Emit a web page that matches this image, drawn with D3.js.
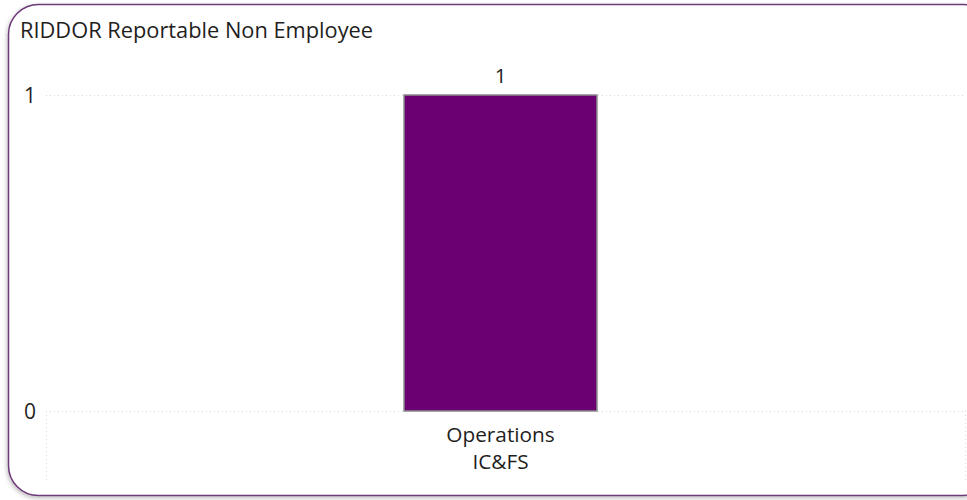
<!DOCTYPE html>
<html><head><meta charset="utf-8">
<script src="https://cdn.jsdelivr.net/npm/d3@7"></script>
<style>body{margin:0;background:#fff;font-family:"Open Sans",sans-serif}</style>
</head><body><svg id="c" width="967" height="500" font-family="Open Sans"></svg>
<script>
const title = "RIDDOR Reportable Non Employee";
const categories = [["Operations","IC&FS"]];
const values = [1];
const yTicks = [0, 1];

const svg = d3.select("#c");
const defs = svg.append("defs");
const f = defs.append("filter").attr("id","sh").attr("x","-5%").attr("y","-5%").attr("width","110%").attr("height","110%");
f.append("feDropShadow").attr("dx",-1).attr("dy",2).attr("stdDeviation",2).attr("flood-color","#000").attr("flood-opacity",0.25);

svg.append("rect").attr("x",8.5).attr("y",4.5).attr("width",985).attr("height",491)
  .attr("rx",30).attr("ry",30).attr("fill","#fff").attr("stroke","#6d3a78").attr("stroke-width",1.5)
  .attr("filter","url(#sh)");

svg.append("text").attr("x",20).attr("y",38).attr("font-size",21.8).attr("fill","#1f1e1d").text(title);

const x = d3.scaleBand().domain(d3.range(values.length)).range([40,961]).paddingInner(0.1).paddingOuter(1.698);
const y = d3.scaleLinear().domain([0,1]).range([411,95]);

const g = svg.append("g");
g.selectAll("line.grid").data(yTicks).join("line")
  .attr("x1",46).attr("x2",965).attr("y1",d=>y(d)+0.5).attr("y2",d=>y(d)+0.5)
  .attr("stroke","#d9d9d9").attr("stroke-width",1).attr("stroke-dasharray","1,3");
[46,965].forEach(xx=>g.append("line").attr("x1",xx+0.5).attr("x2",xx+0.5).attr("y1",y(0)).attr("y2",480)
  .attr("stroke","#d9d9d9").attr("stroke-dasharray","1,3"));

const yAxis = d3.axisLeft(y).tickValues(yTicks).tickSize(0).tickPadding(0).tickFormat(d3.format("d"));
const ya = g.append("g").attr("transform","translate(36,0)").call(yAxis);
ya.select(".domain").remove();
ya.selectAll("text").attr("font-size",21).attr("fill","#1f1e1d").attr("font-family","Open Sans").attr("dy","0.35em");

g.selectAll("rect.bar").data(values).join("rect")
  .attr("x",(d,i)=>x(i)).attr("width",x.bandwidth())
  .attr("y",d=>y(d)).attr("height",d=>y(0)-y(d))
  .attr("fill","#6b0073").attr("stroke","#8a8a8a").attr("stroke-width",1.5);

g.selectAll("text.val").data(values).join("text")
  .attr("x",(d,i)=>x(i)+x.bandwidth()/2).attr("y",d=>y(d)-12)
  .attr("text-anchor","middle").attr("font-size",20.5).attr("fill","#1f1e1d").text(d=>d);

categories.forEach((lines,i)=>{
  lines.forEach((t,j)=>{
    g.append("text").attr("x",x(i)+x.bandwidth()/2).attr("y",442+j*27)
      .attr("text-anchor","middle").attr("font-size",20.8).attr("fill","#1f1e1d").text(t);
  });
});
</script></body></html>
